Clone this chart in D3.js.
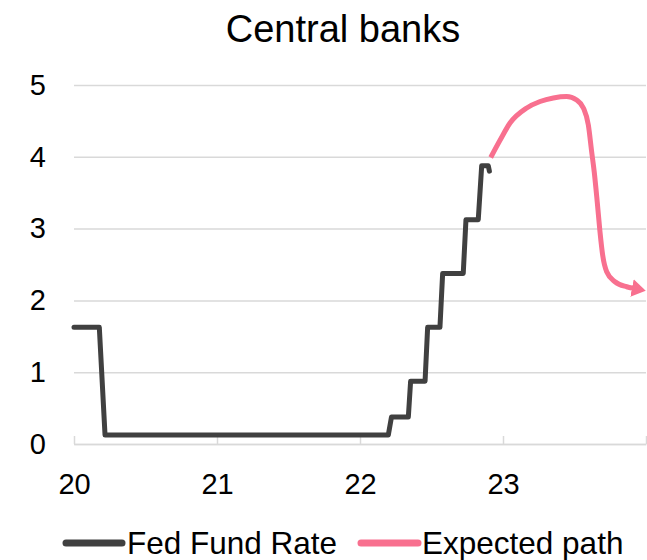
<!DOCTYPE html>
<html>
<head>
<meta charset="utf-8">
<script src="https://cdn.jsdelivr.net/npm/d3@7"></script>
<style>
  html, body { margin: 0; padding: 0; background: #fff; }
  svg { display: block; font-family: "Liberation Sans", Arial, sans-serif; }
</style>
</head>
<body>
<svg id="chart" width="647" height="560"></svg>
<script>
// ---- Data ----
const title = "Central banks";
const yTicks = [0, 1, 2, 3, 4, 5];
const xTicks = [2020, 2021, 2022, 2023, 2024];
const xTickLabels = ["20", "21", "22", "23", ""];
const seriesNames = ["Fed Fund Rate", "Expected path"];

// Fed Fund Rate (decimal year, %)
const fedDates  = [2020.0, 2020.177, 2020.217, 2022.198, 2022.22, 2022.338, 2022.354, 2022.455, 2022.473, 2022.559, 2022.578, 2022.722, 2022.741, 2022.827, 2022.851, 2022.897, 2022.905];
const fedValues = [1.625,  1.625,    0.125,    0.125,    0.375,   0.375,    0.875,    0.875,    1.625,    1.625,    2.375,    2.375,    3.125,    3.125,    3.875,    3.875,    3.80];

// Expected path (decimal year, %)
const expDates  = [2022.914, 2022.979, 2023.049, 2023.166, 2023.259, 2023.352, 2023.445, 2023.515, 2023.562, 2023.597, 2023.620, 2023.638, 2023.659, 2023.678, 2023.697, 2023.725, 2023.783, 2023.865, 2023.909];
const expValues = [3.99,     4.23,     4.47,     4.68,     4.77,     4.82,     4.84,     4.79,     4.68,     4.44,     4.07,     3.79,     3.37,     2.96,     2.63,     2.40,     2.26,     2.19,     2.17];

const fedColor = "#404040";
const expColor = "#f8708f";
const gridColor = "#d9d9d9";

// ---- Layout ----
const svg = d3.select("#chart");
const plotL = 74, plotR = 646, plotT = 85, plotB = 444;

const x = d3.scaleLinear().domain([2020, 2024]).range([plotL, plotR]);
const y = d3.scaleLinear().domain([0, 5]).range([plotB, plotT]);

// Title
svg.append("text")
  .attr("x", 343).attr("y", 41.5)
  .attr("text-anchor", "middle")
  .attr("font-size", 38)
  .attr("fill", "#000")
  .text(title);

// Y axis with gridlines
const yAxis = d3.axisLeft(y).tickValues(yTicks).tickSize(-(plotR - plotL)).tickPadding(28).tickFormat(d3.format("d"));
const gy = svg.append("g").attr("transform", `translate(${plotL},0)`).call(yAxis);
gy.select(".domain").remove();
gy.selectAll(".tick line").attr("stroke", gridColor).attr("stroke-width", 1.5);
gy.selectAll(".tick text").attr("font-size", 29).attr("fill", "#000")
  .attr("font-family", "Liberation Sans, Arial, sans-serif");

// X axis (ticks pointing up)
const xAxis = d3.axisBottom(x).tickValues(xTicks).tickSize(-8).tickSizeOuter(0).tickPadding(29.5)
  .tickFormat((d, i) => xTickLabels[i]);
const gx = svg.append("g").attr("transform", `translate(0,${plotB})`).call(xAxis);
gx.select(".domain").attr("stroke", gridColor).attr("stroke-width", 1.5);
gx.selectAll(".tick line").attr("stroke", gridColor).attr("stroke-width", 1.5);
gx.selectAll(".tick text").attr("font-size", 29).attr("fill", "#000")
  .attr("font-family", "Liberation Sans, Arial, sans-serif");

// Arrow marker
svg.append("defs").append("marker")
  .attr("id", "arrow")
  .attr("markerUnits", "userSpaceOnUse")
  .attr("viewBox", "0 -9 14 18")
  .attr("refX", 1).attr("refY", 0)
  .attr("markerWidth", 14).attr("markerHeight", 18)
  .attr("orient", "auto")
  .append("path").attr("d", "M0,-9L14,0L0,9Z").attr("fill", expColor);

// Fed Fund Rate line
const fedData = fedDates.map((d, i) => [d, fedValues[i]]);
svg.append("path")
  .datum(fedData)
  .attr("fill", "none")
  .attr("stroke", fedColor)
  .attr("stroke-width", 5)
  .attr("stroke-linejoin", "round")
  .attr("stroke-linecap", "round")
  .attr("d", d3.line().x(d => x(d[0])).y(d => y(d[1])));

// Expected path line
const expData = expDates.map((d, i) => [d, expValues[i]]);
svg.append("path")
  .datum(expData)
  .attr("fill", "none")
  .attr("stroke", expColor)
  .attr("stroke-width", 5)
  .attr("stroke-linejoin", "round")
  .attr("marker-end", "url(#arrow)")
  .attr("d", d3.line().curve(d3.curveMonotoneX).x(d => x(d[0])).y(d => y(d[1])));

// Legend
const legendItems = [
  { name: seriesNames[0], color: fedColor, x1: 66, x2: 122, tx: 127 },
  { name: seriesNames[1], color: expColor, x1: 361, x2: 418, tx: 422 }
];
const lg = svg.append("g");
legendItems.forEach(it => {
  lg.append("line")
    .attr("x1", it.x1).attr("x2", it.x2).attr("y1", 543).attr("y2", 543)
    .attr("stroke", it.color).attr("stroke-width", 7).attr("stroke-linecap", "round");
  lg.append("text")
    .attr("x", it.tx).attr("y", 553.5)
    .attr("font-size", 31.5).attr("fill", "#000")
    .text(it.name);
});
</script>
</body>
</html>
